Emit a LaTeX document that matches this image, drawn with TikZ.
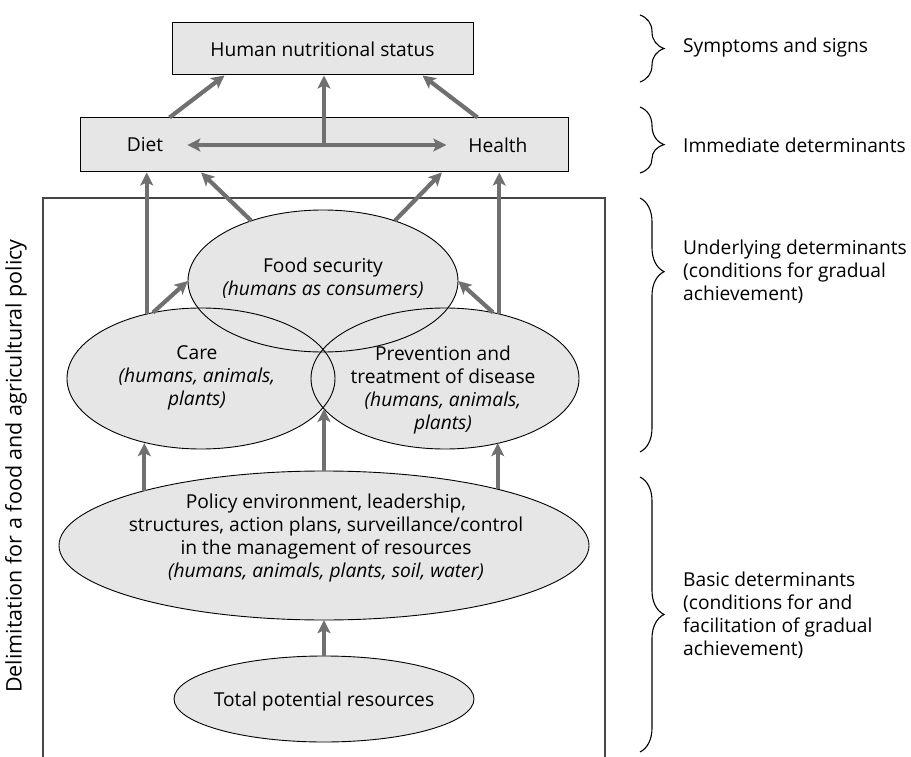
\documentclass[tikz,border=0pt]{standalone}
\usepackage{fontspec}
\setmainfont{Open Sans}
\usetikzlibrary{shapes.geometric, arrows.meta, decorations.pathreplacing, calc}

\definecolor{boxfill}{RGB}{230,230,230}
\definecolor{arrowgray}{RGB}{112,112,112}
\definecolor{framegray}{RGB}{70,70,70}

\begin{document}
\begin{tikzpicture}[x=1pt, y=-1pt,
  every node/.style={font=\fontsize{19.2}{23}\selectfont, inner sep=0pt},
  statbox/.style={rectangle, draw=black, line width=1pt, fill=boxfill},
  blobfill/.style={ellipse, fill=boxfill, inner sep=0pt},
  blobrim/.style={ellipse, draw=black, line width=0.9pt, inner sep=0pt},
  fssize/.style={minimum width=270pt, minimum height=142pt},
  caresize/.style={minimum width=268pt, minimum height=141pt},
  polsize/.style={minimum width=530pt, minimum height=149pt},
  totsize/.style={minimum width=300pt, minimum height=86pt},
  >={Stealth[length=13pt, width=13pt, inset=3pt]},
  flow/.style={draw=arrowgray, line width=4.2pt, ->},
  twoway/.style={draw=arrowgray, line width=4.2pt, <->},
  curly/.style={draw=black, line width=1.1pt, decorate,
    decoration={brace, amplitude=24pt}},
  sidetext/.style={anchor=west, align=left},
  frameline/.style={draw=framegray, line width=1.2pt}
]
\useasboundingbox (0,0) rectangle (911,757);

% policy frame (open at the bottom)
\draw[frameline] (43,757) -- (43,198) -- (605,198) -- (605,757);
\node[rotate=90, font=\fontsize{21.5}{24}\selectfont] (delim) at (16,466) {Delimitation for a food and agricultural policy};

% top boxes
\node[statbox, minimum width=301pt, minimum height=52pt] (hns) at (322.5,49) {Human nutritional status};
\node[statbox, minimum width=488pt, minimum height=54pt] (dh) at (324,145) {};
\node (diet) at (145,145) {Diet};
\node (health) at (498,145) {Health};

% ellipse fills
\node[blobfill, fssize] (fs) at (323,281) {};
\node[blobfill, caresize] (care) at (201,378.5) {};
\node[blobfill, caresize] (prev) at (445,378.5) {};
\node[blobfill, polsize] (pol) at (324,545.5) {};
\node[blobfill, totsize] (tot) at (324,699) {};

% ellipse outlines, all kept visible where they overlap
\node[blobrim, fssize] (fsrim) at (fs) {};
\node[blobrim, caresize] (carerim) at (care) {};
\node[blobrim, caresize] (prevrim) at (prev) {};
\node[blobrim, polsize] (polrim) at (pol) {};
\node[blobrim, totsize] (totrim) at (tot) {};

% ellipse texts
\node[align=center] (fstext) at (323,278) {Food security\\\textit{(humans as consumers)}};
\node[align=center] (caretext) at (197,378) {Care\\\textit{(humans, animals,}\\\textit{plants)}};
\node[align=center] (prevtext) at (443,390) {Prevention and\\treatment of disease\\\textit{(humans, animals,}\\\textit{plants)}};
\node[align=center] (poltext) at (326,538) {Policy environment, leadership,\\structures, action plans, surveillance/control\\in the management of resources\\\textit{(humans, animals, plants, soil, water)}};
\node (tottext) at (324,702) {Total potential resources};

% lens where care and prevention meet at the bottom
\coordinate (lens) at (323,409);

% arrows
\draw[flow] ([xshift=90pt]dh.north west) -- ([xshift=53pt]hns.south west);
\draw[flow] ([xshift=-91pt]dh.north east) -- ([xshift=-51pt]hns.south east);
\draw[flow] (dh.center) -- (dh.center |- hns.south);
\draw[twoway] ([xshift=24pt]diet.east) -- ([xshift=-22pt]health.west);

\draw[flow] (care.130) -- (care.130 |- dh.south);
\draw[flow] (prev.50) -- (prev.50 |- dh.south);
\draw[flow] (fs.140) -- ([xshift=-50pt]fs.140 |- dh.south);
\draw[flow] (fs.40) -- ([xshift=47pt]fs.40 |- dh.south);
\draw[flow] (care.126) -- (fs.west);
\draw[flow] (prev.54) -- (fs.east);

\draw[flow] (pol.163) -- (pol.163 |- care.230);
\draw[flow] (pol.18) -- (pol.18 |- prev.310);
\draw[flow] (pol.north) -- (pol.north |- lens);
\draw[flow] (tot.north) -- (pol.south);

% level braces and their labels
\draw[curly] (640,15) -- (640,82);
\node[sidetext] (sym) at (683,48) {Symptoms and signs};
\draw[curly, decoration={aspect=0.57}] (640,107) -- (640,173);
\node[sidetext] (imm) at (683,145) {Immediate determinants};
\draw[curly, decoration={aspect=0.29}] (640,198) -- (640,452);
\node[sidetext] (und) at (683,272) {Underlying determinants\\(conditions for gradual\\achievement)};
\draw[curly] (640,477) -- (640,752);
\node[sidetext] (bas) at (683,615) {Basic determinants\\(conditions for and\\facilitation of gradual\\achievement)};
\end{tikzpicture}
\end{document}
